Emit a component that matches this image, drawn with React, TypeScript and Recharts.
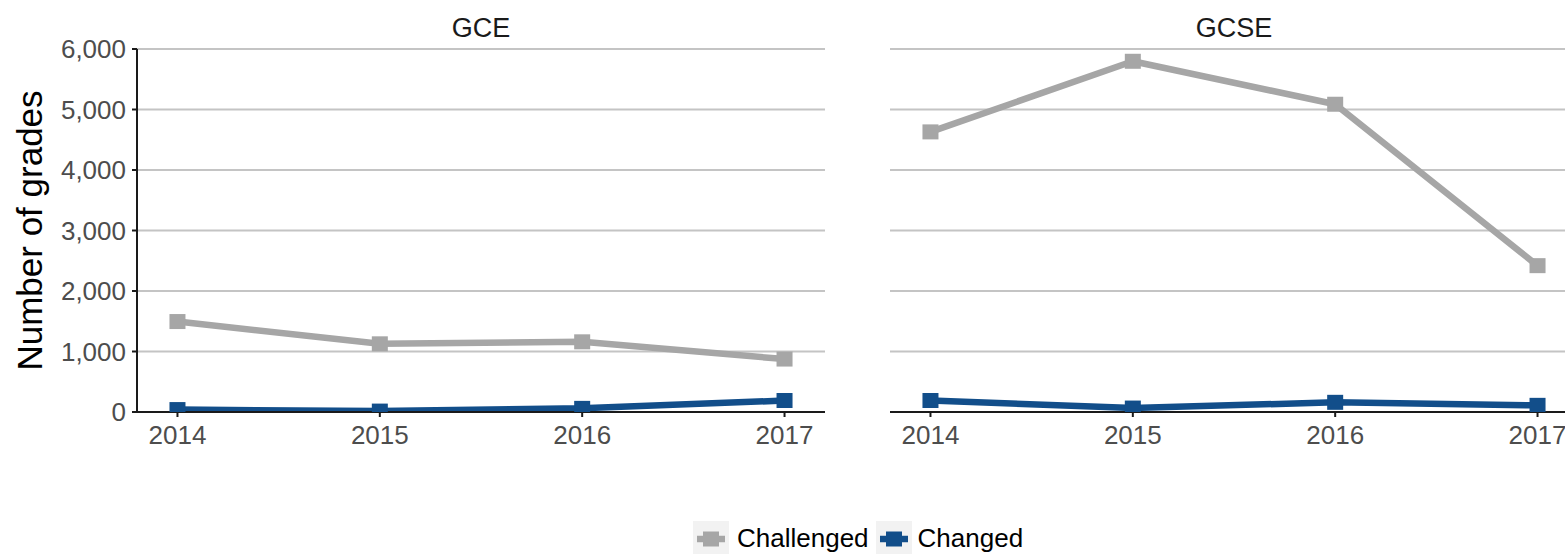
import { LineChart, Line, XAxis, YAxis, CartesianGrid } from "recharts";

const years = [2014, 2015, 2016, 2017];
const yTicks = [0, 1000, 2000, 3000, 4000, 5000, 6000];
const gceChallenged = [1495, 1127, 1160, 875];
const gceChanged = [40, 15, 60, 190];
const gcseChallenged = [4630, 5797, 5087, 2419];
const gcseChanged = [190, 65, 160, 110];

const GREY = "#A6A6A6";
const BLUE = "#124E8A";
const FONT = "'Liberation Sans', Arial, sans-serif";

const toRows = (challenged: number[], changed: number[]) =>
  years.map((year, i) => ({ year, Challenged: challenged[i], Changed: changed[i] }));

const gceData = toRows(gceChallenged, gceChanged);
const gcseData = toRows(gcseChallenged, gcseChanged);

const squareDot = (color: string) => (props: any) => {
  const { cx, cy, index } = props;
  if (cx == null || cy == null) return <g key={`e-${index}`} />;
  return <rect key={`d-${index}`} x={cx - 8} y={cy - 7.5} width={16} height={15} fill={color} />;
};

const tickStyle = { fill: "#4D4D4D", fontSize: 26, fontFamily: FONT };

function Panel({ data, withAxis, width }: { data: any[]; withAxis: boolean; width: number }) {
  return (
    <LineChart width={width} height={459} data={data} margin={{ top: 49, right: 0, bottom: 0, left: 0 }}>
      <CartesianGrid horizontal vertical={false} stroke="#C4C4C4" strokeWidth={2} />
      <XAxis
        type="number"
        dataKey="year"
        domain={[2013.8, 2017.2]}
        ticks={years}
        interval={0}
        allowDataOverflow
        height={47}
        tick={tickStyle}
        tickSize={5}
        tickMargin={9}
        axisLine={{ stroke: "#1A1A1A", strokeWidth: 2 }}
        tickLine={{ stroke: "#1A1A1A", strokeWidth: 2 }}
      />
      <YAxis
        hide={!withAxis}
        width={137}
        domain={[0, 6000]}
        ticks={yTicks}
        interval={0}
        allowDataOverflow
        tick={tickStyle}
        tickSize={5}
        tickMargin={6}
        tickFormatter={(v: number) => v.toLocaleString("en-US")}
        axisLine={{ stroke: "#1A1A1A", strokeWidth: 2 }}
        tickLine={{ stroke: "#1A1A1A", strokeWidth: 2 }}
      />
      <Line
        type="linear"
        dataKey="Challenged"
        stroke={GREY}
        strokeWidth={6.5}
        strokeLinejoin="round"
        dot={squareDot(GREY)}
        activeDot={false}
        isAnimationActive={false}
      />
      <Line
        type="linear"
        dataKey="Changed"
        stroke={BLUE}
        strokeWidth={6.5}
        strokeLinejoin="round"
        dot={squareDot(BLUE)}
        activeDot={false}
        isAnimationActive={false}
      />
    </LineChart>
  );
}

function LegendKey({ color }: { color: string }) {
  return (
    <svg width={36} height={36} style={{ display: "block" }}>
      <rect x={0} y={0} width={36} height={36} fill="#F2F2F2" />
      <line x1={4} y1={18} x2={32} y2={18} stroke={color} strokeWidth={6.5} />
      <rect x={10} y={10.5} width={16} height={15} fill={color} />
    </svg>
  );
}

const titleStyle = {
  position: "absolute" as const,
  top: 15,
  width: 688,
  textAlign: "center" as const,
  fontSize: 27,
  lineHeight: 1,
  color: "#1A1A1A",
};

export default function App() {
  return (
    <div
      style={{
        position: "absolute",
        left: 0,
        top: 0,
        width: 1565,
        height: 554,
        overflow: "hidden",
        background: "#fff",
        fontFamily: FONT,
      }}
    >
      <div style={{ position: "absolute", left: 0, top: 0 }}>
        <Panel data={gceData} withAxis width={825} />
      </div>
      <div style={{ position: "absolute", left: 890, top: 0 }}>
        <Panel data={gcseData} withAxis={false} width={688} />
      </div>

      <div style={{ ...titleStyle, left: 137 }}>GCE</div>
      <div style={{ ...titleStyle, left: 890 }}>GCSE</div>

      <div
        style={{
          position: "absolute",
          left: -171,
          top: 212.5,
          width: 400,
          height: 35,
          lineHeight: 1,
          fontSize: 35,
          textAlign: "center",
          transform: "rotate(-90deg)",
          color: "#000",
        }}
      >
        Number of grades
      </div>

      <div style={{ position: "absolute", left: 693, top: 521, display: "flex", alignItems: "flex-start", fontSize: 26, lineHeight: 1 }}>
        <LegendKey color={GREY} />
        <span style={{ marginLeft: 8, marginTop: 4 }}>Challenged</span>
        <div style={{ marginLeft: 7 }}>
          <LegendKey color={BLUE} />
        </div>
        <span style={{ marginLeft: 6, marginTop: 4 }}>Changed</span>
      </div>
    </div>
  );
}
